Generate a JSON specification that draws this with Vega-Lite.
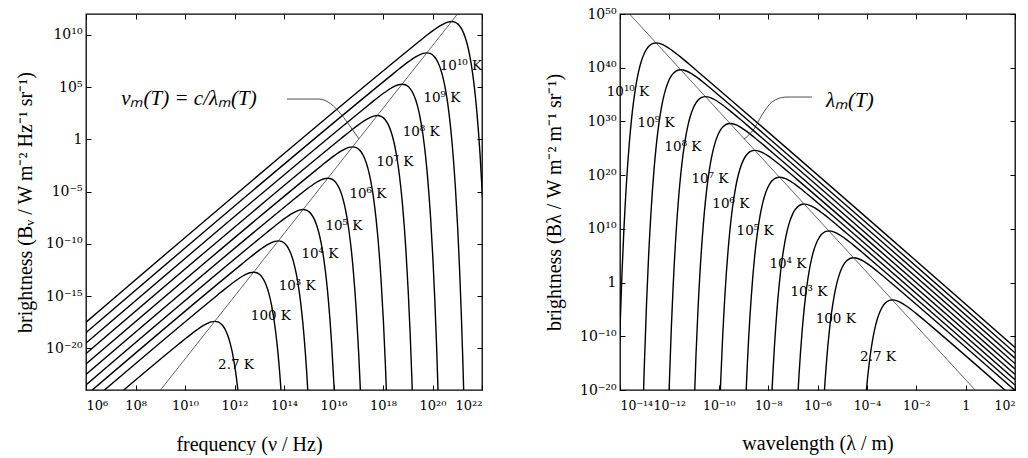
{
"$schema": "https://vega.github.io/schema/vega-lite/v6.json",
"background": "white",
"padding": {"left": 14, "top": 6, "right": 0, "bottom": 0},
"bounds": "flush",
"spacing": 138,
"config": {
  "view": {"stroke": "black", "strokeWidth": 1.3},
  "font": "Liberation Serif",
  "axis": {"grid": false, "domain": false, "tickColor": "black", "tickSize": -5, "tickWidth": 1, "labelFont": "DejaVu Serif", "labelFontSize": 14, "labelColor": "black", "labelPadding": 9, "labelOverlap": false, "labelBound": false, "titleFont": "Liberation Serif", "titleFontSize": 20, "titleFontWeight": "normal", "titleColor": "black"},
  "text": {"font": "DejaVu Serif", "fontSize": 13.5, "color": "black"}
},
"datasets": {
"nu": [
{"T":"2.7","x":6,"y":-27.081},{"T":"2.7","x":9.750,"y":-19.603},{"T":"2.7","x":10.051,"y":-19.023},{"T":"2.7","x":10.227,"y":-18.694},{"T":"2.7","x":10.449,"y":-18.296},{"T":"2.7","x":10.595,"y":-18.052},{"T":"2.7","x":10.750,"y":-17.816},{"T":"2.7","x":10.926,"y":-17.595},{"T":"2.7","x":11.051,"y":-17.483},{"T":"2.7","x":11.201,"y":-17.428},{"T":"2.7","x":11.352,"y":-17.504},{"T":"2.7","x":11.449,"y":-17.653},{"T":"2.7","x":11.528,"y":-17.851},{"T":"2.7","x":11.653,"y":-18.346},{"T":"2.7","x":11.750,"y":-18.924},{"T":"2.7","x":11.829,"y":-19.555},{"T":"2.7","x":11.926,"y":-20.567},{"T":"2.7","x":12.051,"y":-22.364},{"T":"2.7","x":12.148,"y":-24.245},
{"T":"1e2","x":6,"y":-25.513},{"T":"1e2","x":11.319,"y":-14.897},{"T":"1e2","x":11.620,"y":-14.317},{"T":"1e2","x":11.796,"y":-13.988},{"T":"1e2","x":12.018,"y":-13.590},{"T":"1e2","x":12.164,"y":-13.346},{"T":"1e2","x":12.319,"y":-13.110},{"T":"1e2","x":12.495,"y":-12.889},{"T":"1e2","x":12.620,"y":-12.777},{"T":"1e2","x":12.769,"y":-12.722},{"T":"1e2","x":12.921,"y":-12.798},{"T":"1e2","x":13.018,"y":-12.947},{"T":"1e2","x":13.097,"y":-13.145},{"T":"1e2","x":13.222,"y":-13.640},{"T":"1e2","x":13.319,"y":-14.218},{"T":"1e2","x":13.398,"y":-14.849},{"T":"1e2","x":13.495,"y":-15.861},{"T":"1e2","x":13.620,"y":-17.658},{"T":"1e2","x":13.717,"y":-19.539},{"T":"1e2","x":13.796,"y":-21.472},{"T":"1e2","x":13.921,"y":-25.441},
{"T":"1e3","x":6,"y":-24.513},{"T":"1e3","x":12.319,"y":-11.897},{"T":"1e3","x":12.620,"y":-11.317},{"T":"1e3","x":12.796,"y":-10.988},{"T":"1e3","x":13.018,"y":-10.590},{"T":"1e3","x":13.164,"y":-10.346},{"T":"1e3","x":13.319,"y":-10.110},{"T":"1e3","x":13.495,"y":-9.889},{"T":"1e3","x":13.620,"y":-9.777},{"T":"1e3","x":13.769,"y":-9.722},{"T":"1e3","x":13.921,"y":-9.798},{"T":"1e3","x":14.018,"y":-9.947},{"T":"1e3","x":14.097,"y":-10.145},{"T":"1e3","x":14.222,"y":-10.640},{"T":"1e3","x":14.319,"y":-11.218},{"T":"1e3","x":14.398,"y":-11.849},{"T":"1e3","x":14.495,"y":-12.861},{"T":"1e3","x":14.620,"y":-14.658},{"T":"1e3","x":14.717,"y":-16.539},{"T":"1e3","x":14.796,"y":-18.472},{"T":"1e3","x":14.921,"y":-22.441},{"T":"1e3","x":15.018,"y":-26.493},
{"T":"1e4","x":6,"y":-23.513},{"T":"1e4","x":13.319,"y":-8.897},{"T":"1e4","x":13.620,"y":-8.317},{"T":"1e4","x":13.796,"y":-7.988},{"T":"1e4","x":14.018,"y":-7.590},{"T":"1e4","x":14.164,"y":-7.346},{"T":"1e4","x":14.319,"y":-7.110},{"T":"1e4","x":14.495,"y":-6.889},{"T":"1e4","x":14.620,"y":-6.777},{"T":"1e4","x":14.769,"y":-6.722},{"T":"1e4","x":14.921,"y":-6.798},{"T":"1e4","x":15.018,"y":-6.947},{"T":"1e4","x":15.097,"y":-7.145},{"T":"1e4","x":15.222,"y":-7.640},{"T":"1e4","x":15.319,"y":-8.218},{"T":"1e4","x":15.398,"y":-8.849},{"T":"1e4","x":15.495,"y":-9.861},{"T":"1e4","x":15.620,"y":-11.658},{"T":"1e4","x":15.717,"y":-13.539},{"T":"1e4","x":15.796,"y":-15.472},{"T":"1e4","x":15.921,"y":-19.441},{"T":"1e4","x":16.018,"y":-23.493},{"T":"1e4","x":16.097,"y":-27.599},
{"T":"1e5","x":6,"y":-22.513},{"T":"1e5","x":14.319,"y":-5.897},{"T":"1e5","x":14.620,"y":-5.317},{"T":"1e5","x":14.796,"y":-4.988},{"T":"1e5","x":15.018,"y":-4.590},{"T":"1e5","x":15.164,"y":-4.346},{"T":"1e5","x":15.319,"y":-4.110},{"T":"1e5","x":15.495,"y":-3.889},{"T":"1e5","x":15.620,"y":-3.777},{"T":"1e5","x":15.769,"y":-3.722},{"T":"1e5","x":15.921,"y":-3.798},{"T":"1e5","x":16.018,"y":-3.947},{"T":"1e5","x":16.097,"y":-4.145},{"T":"1e5","x":16.222,"y":-4.640},{"T":"1e5","x":16.319,"y":-5.218},{"T":"1e5","x":16.398,"y":-5.849},{"T":"1e5","x":16.495,"y":-6.861},{"T":"1e5","x":16.620,"y":-8.658},{"T":"1e5","x":16.717,"y":-10.539},{"T":"1e5","x":16.796,"y":-12.472},{"T":"1e5","x":16.921,"y":-16.441},{"T":"1e5","x":17.018,"y":-20.493},{"T":"1e5","x":17.097,"y":-24.599},
{"T":"1e6","x":6,"y":-21.513},{"T":"1e6","x":15.319,"y":-2.897},{"T":"1e6","x":15.620,"y":-2.317},{"T":"1e6","x":15.796,"y":-1.988},{"T":"1e6","x":16.018,"y":-1.590},{"T":"1e6","x":16.164,"y":-1.346},{"T":"1e6","x":16.319,"y":-1.110},{"T":"1e6","x":16.495,"y":-0.889},{"T":"1e6","x":16.620,"y":-0.777},{"T":"1e6","x":16.769,"y":-0.722},{"T":"1e6","x":16.921,"y":-0.798},{"T":"1e6","x":17.018,"y":-0.947},{"T":"1e6","x":17.097,"y":-1.145},{"T":"1e6","x":17.222,"y":-1.640},{"T":"1e6","x":17.319,"y":-2.218},{"T":"1e6","x":17.398,"y":-2.849},{"T":"1e6","x":17.495,"y":-3.861},{"T":"1e6","x":17.620,"y":-5.658},{"T":"1e6","x":17.717,"y":-7.539},{"T":"1e6","x":17.796,"y":-9.472},{"T":"1e6","x":17.921,"y":-13.441},{"T":"1e6","x":18.018,"y":-17.493},{"T":"1e6","x":18.097,"y":-21.599},{"T":"1e6","x":18.164,"y":-25.741},
{"T":"1e7","x":6,"y":-20.513},{"T":"1e7","x":16.319,"y":0.103},{"T":"1e7","x":16.620,"y":0.683},{"T":"1e7","x":16.796,"y":1.012},{"T":"1e7","x":17.018,"y":1.410},{"T":"1e7","x":17.164,"y":1.654},{"T":"1e7","x":17.319,"y":1.890},{"T":"1e7","x":17.495,"y":2.111},{"T":"1e7","x":17.620,"y":2.223},{"T":"1e7","x":17.769,"y":2.278},{"T":"1e7","x":17.921,"y":2.202},{"T":"1e7","x":18.018,"y":2.053},{"T":"1e7","x":18.097,"y":1.855},{"T":"1e7","x":18.222,"y":1.360},{"T":"1e7","x":18.319,"y":0.782},{"T":"1e7","x":18.398,"y":0.151},{"T":"1e7","x":18.495,"y":-0.861},{"T":"1e7","x":18.620,"y":-2.658},{"T":"1e7","x":18.717,"y":-4.539},{"T":"1e7","x":18.796,"y":-6.472},{"T":"1e7","x":18.921,"y":-10.441},{"T":"1e7","x":19.018,"y":-14.493},{"T":"1e7","x":19.097,"y":-18.599},{"T":"1e7","x":19.164,"y":-22.741},{"T":"1e7","x":19.222,"y":-26.910},
{"T":"1e8","x":6,"y":-19.513},{"T":"1e8","x":17.319,"y":3.103},{"T":"1e8","x":17.620,"y":3.683},{"T":"1e8","x":17.796,"y":4.012},{"T":"1e8","x":18.018,"y":4.410},{"T":"1e8","x":18.164,"y":4.654},{"T":"1e8","x":18.319,"y":4.890},{"T":"1e8","x":18.495,"y":5.111},{"T":"1e8","x":18.620,"y":5.223},{"T":"1e8","x":18.769,"y":5.278},{"T":"1e8","x":18.921,"y":5.202},{"T":"1e8","x":19.018,"y":5.053},{"T":"1e8","x":19.097,"y":4.855},{"T":"1e8","x":19.222,"y":4.360},{"T":"1e8","x":19.319,"y":3.782},{"T":"1e8","x":19.398,"y":3.151},{"T":"1e8","x":19.495,"y":2.139},{"T":"1e8","x":19.620,"y":0.342},{"T":"1e8","x":19.717,"y":-1.539},{"T":"1e8","x":19.796,"y":-3.472},{"T":"1e8","x":19.921,"y":-7.441},{"T":"1e8","x":20.018,"y":-11.493},{"T":"1e8","x":20.097,"y":-15.599},{"T":"1e8","x":20.164,"y":-19.741},{"T":"1e8","x":20.222,"y":-23.910},{"T":"1e8","x":20.273,"y":-28.095},
{"T":"1e9","x":6,"y":-18.513},{"T":"1e9","x":18.319,"y":6.103},{"T":"1e9","x":18.620,"y":6.683},{"T":"1e9","x":18.796,"y":7.012},{"T":"1e9","x":19.018,"y":7.410},{"T":"1e9","x":19.164,"y":7.654},{"T":"1e9","x":19.319,"y":7.890},{"T":"1e9","x":19.495,"y":8.111},{"T":"1e9","x":19.620,"y":8.223},{"T":"1e9","x":19.769,"y":8.278},{"T":"1e9","x":19.921,"y":8.202},{"T":"1e9","x":20.018,"y":8.053},{"T":"1e9","x":20.097,"y":7.855},{"T":"1e9","x":20.222,"y":7.360},{"T":"1e9","x":20.319,"y":6.782},{"T":"1e9","x":20.398,"y":6.151},{"T":"1e9","x":20.495,"y":5.139},{"T":"1e9","x":20.620,"y":3.342},{"T":"1e9","x":20.717,"y":1.461},{"T":"1e9","x":20.796,"y":-0.472},{"T":"1e9","x":20.921,"y":-4.441},{"T":"1e9","x":21.018,"y":-8.493},{"T":"1e9","x":21.097,"y":-12.599},{"T":"1e9","x":21.164,"y":-16.741},{"T":"1e9","x":21.222,"y":-20.910},{"T":"1e9","x":21.273,"y":-25.095},
{"T":"1e10","x":6,"y":-17.513},{"T":"1e10","x":19.319,"y":9.103},{"T":"1e10","x":19.620,"y":9.683},{"T":"1e10","x":19.796,"y":10.012},{"T":"1e10","x":20.018,"y":10.410},{"T":"1e10","x":20.164,"y":10.654},{"T":"1e10","x":20.319,"y":10.890},{"T":"1e10","x":20.495,"y":11.111},{"T":"1e10","x":20.620,"y":11.223},{"T":"1e10","x":20.769,"y":11.278},{"T":"1e10","x":20.921,"y":11.202},{"T":"1e10","x":21.018,"y":11.053},{"T":"1e10","x":21.097,"y":10.855},{"T":"1e10","x":21.222,"y":10.360},{"T":"1e10","x":21.319,"y":9.782},{"T":"1e10","x":21.398,"y":9.151},{"T":"1e10","x":21.495,"y":8.139},{"T":"1e10","x":21.620,"y":6.342},{"T":"1e10","x":21.717,"y":4.461},{"T":"1e10","x":21.796,"y":2.528},{"T":"1e10","x":21.921,"y":-1.441},{"T":"1e10","x":22.018,"y":-5.493}
],
"lam": [
{"T":"2.7","x":2,"y":-21.651},{"T":"2.7","x":-1.273,"y":-8.579},{"T":"2.7","x":-1.574,"y":-7.397},{"T":"2.7","x":-1.750,"y":-6.716},{"T":"2.7","x":-1.972,"y":-5.874},{"T":"2.7","x":-2.118,"y":-5.338},{"T":"2.7","x":-2.273,"y":-4.792},{"T":"2.7","x":-2.449,"y":-4.219},{"T":"2.7","x":-2.574,"y":-3.857},{"T":"2.7","x":-2.723,"y":-3.503},{"T":"2.7","x":-2.875,"y":-3.276},{"T":"2.7","x":-2.972,"y":-3.231},{"T":"2.7","x":-3.051,"y":-3.271},{"T":"2.7","x":-3.176,"y":-3.516},{"T":"2.7","x":-3.273,"y":-3.900},{"T":"2.7","x":-3.352,"y":-4.373},{"T":"2.7","x":-3.449,"y":-5.191},{"T":"2.7","x":-3.574,"y":-6.738},{"T":"2.7","x":-3.671,"y":-8.425},{"T":"2.7","x":-3.750,"y":-10.200},{"T":"2.7","x":-3.875,"y":-13.919},{"T":"2.7","x":-3.972,"y":-17.777},{"T":"2.7","x":-4.051,"y":-21.725},
{"T":"1e2","x":2,"y":-20.082},{"T":"1e2","x":-2.842,"y":-0.736},{"T":"1e2","x":-3.143,"y":0.446},{"T":"1e2","x":-3.319,"y":1.127},{"T":"1e2","x":-3.541,"y":1.969},{"T":"1e2","x":-3.687,"y":2.505},{"T":"1e2","x":-3.842,"y":3.051},{"T":"1e2","x":-4.018,"y":3.624},{"T":"1e2","x":-4.143,"y":3.986},{"T":"1e2","x":-4.292,"y":4.340},{"T":"1e2","x":-4.444,"y":4.567},{"T":"1e2","x":-4.541,"y":4.612},{"T":"1e2","x":-4.620,"y":4.572},{"T":"1e2","x":-4.745,"y":4.327},{"T":"1e2","x":-4.842,"y":3.943},{"T":"1e2","x":-4.921,"y":3.470},{"T":"1e2","x":-5.018,"y":2.652},{"T":"1e2","x":-5.143,"y":1.105},{"T":"1e2","x":-5.240,"y":-0.582},{"T":"1e2","x":-5.319,"y":-2.357},{"T":"1e2","x":-5.444,"y":-6.076},{"T":"1e2","x":-5.541,"y":-9.934},{"T":"1e2","x":-5.620,"y":-13.882},{"T":"1e2","x":-5.687,"y":-17.890},{"T":"1e2","x":-5.745,"y":-21.943},
{"T":"1e3","x":2,"y":-19.082},{"T":"1e3","x":-3.842,"y":4.264},{"T":"1e3","x":-4.143,"y":5.446},{"T":"1e3","x":-4.319,"y":6.127},{"T":"1e3","x":-4.541,"y":6.969},{"T":"1e3","x":-4.687,"y":7.505},{"T":"1e3","x":-4.842,"y":8.051},{"T":"1e3","x":-5.018,"y":8.624},{"T":"1e3","x":-5.143,"y":8.986},{"T":"1e3","x":-5.292,"y":9.340},{"T":"1e3","x":-5.444,"y":9.567},{"T":"1e3","x":-5.541,"y":9.612},{"T":"1e3","x":-5.620,"y":9.572},{"T":"1e3","x":-5.745,"y":9.327},{"T":"1e3","x":-5.842,"y":8.943},{"T":"1e3","x":-5.921,"y":8.470},{"T":"1e3","x":-6.018,"y":7.652},{"T":"1e3","x":-6.143,"y":6.105},{"T":"1e3","x":-6.240,"y":4.418},{"T":"1e3","x":-6.319,"y":2.643},{"T":"1e3","x":-6.444,"y":-1.076},{"T":"1e3","x":-6.541,"y":-4.934},{"T":"1e3","x":-6.620,"y":-8.882},{"T":"1e3","x":-6.687,"y":-12.890},{"T":"1e3","x":-6.745,"y":-16.943},{"T":"1e3","x":-6.796,"y":-21.026},
{"T":"1e4","x":2,"y":-18.082},{"T":"1e4","x":-4.842,"y":9.264},{"T":"1e4","x":-5.143,"y":10.446},{"T":"1e4","x":-5.319,"y":11.127},{"T":"1e4","x":-5.541,"y":11.969},{"T":"1e4","x":-5.687,"y":12.505},{"T":"1e4","x":-5.842,"y":13.051},{"T":"1e4","x":-6.018,"y":13.624},{"T":"1e4","x":-6.143,"y":13.986},{"T":"1e4","x":-6.292,"y":14.340},{"T":"1e4","x":-6.444,"y":14.567},{"T":"1e4","x":-6.541,"y":14.612},{"T":"1e4","x":-6.620,"y":14.572},{"T":"1e4","x":-6.745,"y":14.327},{"T":"1e4","x":-6.842,"y":13.943},{"T":"1e4","x":-6.921,"y":13.470},{"T":"1e4","x":-7.018,"y":12.652},{"T":"1e4","x":-7.143,"y":11.105},{"T":"1e4","x":-7.240,"y":9.418},{"T":"1e4","x":-7.319,"y":7.643},{"T":"1e4","x":-7.444,"y":3.924},{"T":"1e4","x":-7.541,"y":0.066},{"T":"1e4","x":-7.620,"y":-3.882},{"T":"1e4","x":-7.687,"y":-7.890},{"T":"1e4","x":-7.745,"y":-11.943},{"T":"1e4","x":-7.796,"y":-16.026},{"T":"1e4","x":-7.842,"y":-20.144},
{"T":"1e5","x":2,"y":-17.082},{"T":"1e5","x":-5.842,"y":14.264},{"T":"1e5","x":-6.143,"y":15.446},{"T":"1e5","x":-6.319,"y":16.127},{"T":"1e5","x":-6.541,"y":16.969},{"T":"1e5","x":-6.687,"y":17.505},{"T":"1e5","x":-6.842,"y":18.051},{"T":"1e5","x":-7.018,"y":18.624},{"T":"1e5","x":-7.143,"y":18.986},{"T":"1e5","x":-7.292,"y":19.340},{"T":"1e5","x":-7.444,"y":19.567},{"T":"1e5","x":-7.541,"y":19.612},{"T":"1e5","x":-7.620,"y":19.572},{"T":"1e5","x":-7.745,"y":19.327},{"T":"1e5","x":-7.842,"y":18.943},{"T":"1e5","x":-7.921,"y":18.470},{"T":"1e5","x":-8.018,"y":17.652},{"T":"1e5","x":-8.143,"y":16.105},{"T":"1e5","x":-8.240,"y":14.418},{"T":"1e5","x":-8.319,"y":12.643},{"T":"1e5","x":-8.444,"y":8.924},{"T":"1e5","x":-8.541,"y":5.066},{"T":"1e5","x":-8.620,"y":1.118},{"T":"1e5","x":-8.687,"y":-2.890},{"T":"1e5","x":-8.745,"y":-6.943},{"T":"1e5","x":-8.796,"y":-11.026},{"T":"1e5","x":-8.842,"y":-15.144},{"T":"1e5","x":-8.921,"y":-23.436},
{"T":"1e6","x":2,"y":-16.082},{"T":"1e6","x":-6.842,"y":19.264},{"T":"1e6","x":-7.143,"y":20.446},{"T":"1e6","x":-7.319,"y":21.127},{"T":"1e6","x":-7.541,"y":21.969},{"T":"1e6","x":-7.687,"y":22.505},{"T":"1e6","x":-7.842,"y":23.051},{"T":"1e6","x":-8.018,"y":23.624},{"T":"1e6","x":-8.143,"y":23.986},{"T":"1e6","x":-8.292,"y":24.340},{"T":"1e6","x":-8.444,"y":24.567},{"T":"1e6","x":-8.541,"y":24.612},{"T":"1e6","x":-8.620,"y":24.572},{"T":"1e6","x":-8.745,"y":24.327},{"T":"1e6","x":-8.842,"y":23.943},{"T":"1e6","x":-8.921,"y":23.470},{"T":"1e6","x":-9.018,"y":22.652},{"T":"1e6","x":-9.143,"y":21.105},{"T":"1e6","x":-9.240,"y":19.418},{"T":"1e6","x":-9.319,"y":17.643},{"T":"1e6","x":-9.444,"y":13.924},{"T":"1e6","x":-9.541,"y":10.066},{"T":"1e6","x":-9.620,"y":6.118},{"T":"1e6","x":-9.687,"y":2.110},{"T":"1e6","x":-9.745,"y":-1.943},{"T":"1e6","x":-9.796,"y":-6.026},{"T":"1e6","x":-9.842,"y":-10.144},{"T":"1e6","x":-9.921,"y":-18.436},{"T":"1e6","x":-10.018,"y":-30.982},
{"T":"1e7","x":2,"y":-15.082},{"T":"1e7","x":-7.842,"y":24.264},{"T":"1e7","x":-8.143,"y":25.446},{"T":"1e7","x":-8.319,"y":26.127},{"T":"1e7","x":-8.541,"y":26.969},{"T":"1e7","x":-8.687,"y":27.505},{"T":"1e7","x":-8.842,"y":28.051},{"T":"1e7","x":-9.018,"y":28.624},{"T":"1e7","x":-9.143,"y":28.986},{"T":"1e7","x":-9.292,"y":29.340},{"T":"1e7","x":-9.444,"y":29.567},{"T":"1e7","x":-9.541,"y":29.612},{"T":"1e7","x":-9.620,"y":29.572},{"T":"1e7","x":-9.745,"y":29.327},{"T":"1e7","x":-9.842,"y":28.943},{"T":"1e7","x":-9.921,"y":28.470},{"T":"1e7","x":-10.018,"y":27.652},{"T":"1e7","x":-10.143,"y":26.105},{"T":"1e7","x":-10.240,"y":24.418},{"T":"1e7","x":-10.319,"y":22.643},{"T":"1e7","x":-10.444,"y":18.924},{"T":"1e7","x":-10.541,"y":15.066},{"T":"1e7","x":-10.620,"y":11.118},{"T":"1e7","x":-10.687,"y":7.110},{"T":"1e7","x":-10.745,"y":3.057},{"T":"1e7","x":-10.796,"y":-1.026},{"T":"1e7","x":-10.842,"y":-5.144},{"T":"1e7","x":-10.921,"y":-13.436},{"T":"1e7","x":-11.018,"y":-25.982},
{"T":"1e8","x":2,"y":-14.082},{"T":"1e8","x":-8.842,"y":29.264},{"T":"1e8","x":-9.143,"y":30.446},{"T":"1e8","x":-9.319,"y":31.127},{"T":"1e8","x":-9.541,"y":31.969},{"T":"1e8","x":-9.687,"y":32.505},{"T":"1e8","x":-9.842,"y":33.051},{"T":"1e8","x":-10.018,"y":33.624},{"T":"1e8","x":-10.143,"y":33.986},{"T":"1e8","x":-10.292,"y":34.340},{"T":"1e8","x":-10.444,"y":34.567},{"T":"1e8","x":-10.541,"y":34.612},{"T":"1e8","x":-10.620,"y":34.572},{"T":"1e8","x":-10.745,"y":34.327},{"T":"1e8","x":-10.842,"y":33.943},{"T":"1e8","x":-10.921,"y":33.470},{"T":"1e8","x":-11.018,"y":32.652},{"T":"1e8","x":-11.143,"y":31.105},{"T":"1e8","x":-11.240,"y":29.418},{"T":"1e8","x":-11.319,"y":27.643},{"T":"1e8","x":-11.444,"y":23.924},{"T":"1e8","x":-11.541,"y":20.066},{"T":"1e8","x":-11.620,"y":16.118},{"T":"1e8","x":-11.687,"y":12.110},{"T":"1e8","x":-11.745,"y":8.057},{"T":"1e8","x":-11.796,"y":3.974},{"T":"1e8","x":-11.842,"y":-0.144},{"T":"1e8","x":-11.921,"y":-8.436},{"T":"1e8","x":-12.018,"y":-20.982},
{"T":"1e9","x":2,"y":-13.082},{"T":"1e9","x":-9.842,"y":34.264},{"T":"1e9","x":-10.143,"y":35.446},{"T":"1e9","x":-10.319,"y":36.127},{"T":"1e9","x":-10.541,"y":36.969},{"T":"1e9","x":-10.687,"y":37.505},{"T":"1e9","x":-10.842,"y":38.051},{"T":"1e9","x":-11.018,"y":38.624},{"T":"1e9","x":-11.143,"y":38.986},{"T":"1e9","x":-11.292,"y":39.340},{"T":"1e9","x":-11.444,"y":39.567},{"T":"1e9","x":-11.541,"y":39.612},{"T":"1e9","x":-11.620,"y":39.572},{"T":"1e9","x":-11.745,"y":39.327},{"T":"1e9","x":-11.842,"y":38.943},{"T":"1e9","x":-11.921,"y":38.470},{"T":"1e9","x":-12.018,"y":37.652},{"T":"1e9","x":-12.143,"y":36.105},{"T":"1e9","x":-12.240,"y":34.418},{"T":"1e9","x":-12.319,"y":32.643},{"T":"1e9","x":-12.444,"y":28.924},{"T":"1e9","x":-12.541,"y":25.066},{"T":"1e9","x":-12.620,"y":21.118},{"T":"1e9","x":-12.687,"y":17.110},{"T":"1e9","x":-12.745,"y":13.057},{"T":"1e9","x":-12.796,"y":8.974},{"T":"1e9","x":-12.842,"y":4.856},{"T":"1e9","x":-12.921,"y":-3.436},{"T":"1e9","x":-13.018,"y":-15.982},{"T":"1e9","x":-13.085,"y":-26.500},
{"T":"1e10","x":2,"y":-12.082},{"T":"1e10","x":-10.842,"y":39.264},{"T":"1e10","x":-11.143,"y":40.446},{"T":"1e10","x":-11.319,"y":41.127},{"T":"1e10","x":-11.541,"y":41.969},{"T":"1e10","x":-11.687,"y":42.505},{"T":"1e10","x":-11.842,"y":43.051},{"T":"1e10","x":-12.018,"y":43.624},{"T":"1e10","x":-12.143,"y":43.986},{"T":"1e10","x":-12.292,"y":44.340},{"T":"1e10","x":-12.444,"y":44.567},{"T":"1e10","x":-12.541,"y":44.612},{"T":"1e10","x":-12.620,"y":44.572},{"T":"1e10","x":-12.745,"y":44.327},{"T":"1e10","x":-12.842,"y":43.943},{"T":"1e10","x":-12.921,"y":43.470},{"T":"1e10","x":-13.018,"y":42.652},{"T":"1e10","x":-13.143,"y":41.105},{"T":"1e10","x":-13.240,"y":39.418},{"T":"1e10","x":-13.319,"y":37.643},{"T":"1e10","x":-13.444,"y":33.924},{"T":"1e10","x":-13.541,"y":30.066},{"T":"1e10","x":-13.620,"y":26.118},{"T":"1e10","x":-13.687,"y":22.110},{"T":"1e10","x":-13.745,"y":18.057},{"T":"1e10","x":-13.796,"y":13.974},{"T":"1e10","x":-13.842,"y":9.856},{"T":"1e10","x":-13.921,"y":1.564},{"T":"1e10","x":-14.018,"y":-10.982}
]
},
"hconcat": [
{
  "width": 396, "height": 376,
  "resolve": {"axis": {"x": "independent", "y": "independent"}},
  "layer": [
    {
      "data": {"name": "nu"},
      "mark": {"type": "line", "clip": true, "interpolate": "monotone", "color": "black", "strokeWidth": 1.4},
      "encoding": {
        "x": {"field": "x", "type": "quantitative", "scale": {"domain": [6, 22], "nice": false, "zero": false},
              "axis": {"orient": "bottom", "values": [6,8,10,12,14,16,18,20,22], "labelExpr": "['10⁶','10⁸','10¹⁰','10¹²','10¹⁴','10¹⁶','10¹⁸','10²⁰','10²²'][(datum.value-6)/2]", "labelFontSize": 13, "labelPadding": 14, "title": "frequency (ν / Hz)", "titleX": 163, "titlePadding": 22}},
        "y": {"field": "y", "type": "quantitative", "scale": {"domain": [-24, 12], "nice": false, "zero": false},
              "axis": {"orient": "left", "values": [-20,-15,-10,-5,0,5,10], "labelExpr": "['10⁻²⁰','10⁻¹⁵','10⁻¹⁰','10⁻⁵','1','10⁵','10¹⁰'][(datum.value+20)/5]", "title": "brightness (Bᵥ / W m⁻² Hz⁻¹ sr⁻¹)", "titlePadding": 10}},
        "detail": {"field": "T", "type": "nominal"}
      }
    },
    {
      "data": {"values": [{"x": 6, "y": -33.03}, {"x": 22, "y": 14.97}]},
      "mark": {"type": "line", "clip": true, "color": "#222222", "strokeWidth": 0.7},
      "encoding": {
        "x": {"field": "x", "type": "quantitative", "scale": {"domain": [6, 22], "nice": false, "zero": false},
              "axis": {"orient": "top", "values": [6,8,10,12,14,16,18,20,22], "labels": false, "title": null}},
        "y": {"field": "y", "type": "quantitative", "scale": {"domain": [-24, 12], "nice": false, "zero": false},
              "axis": {"orient": "right", "values": [-20,-15,-10,-5,0,5,10], "labels": false, "title": null}}
      }
    },
    {
      "data": {"values": [{"x": 14.12, "y": 3.86}, {"x": 15.41, "y": 3.86}, {"x": 15.90, "y": 3.38}, {"x": 16.30, "y": 2.42}, {"x": 16.75, "y": 0.98}, {"x": 17.03, "y": 0.05}]},
      "mark": {"type": "line", "interpolate": "monotone", "color": "#222222", "strokeWidth": 0.8},
      "encoding": {
        "x": {"field": "x", "type": "quantitative", "scale": {"domain": [6, 22], "nice": false, "zero": false}, "axis": null},
        "y": {"field": "y", "type": "quantitative", "scale": {"domain": [-24, 12], "nice": false, "zero": false}, "axis": null}
      }
    },
    {
      "data": {"values": [
        {"x": 12.06, "y": -21.62, "t": "2.7 K"}, {"x": 13.47, "y": -16.93, "t": "100 K"}, {"x": 14.53, "y": -14.05, "t": "10³ K"},
        {"x": 15.45, "y": -10.99, "t": "10⁴ K"}, {"x": 16.42, "y": -8.31, "t": "10⁵ K"}, {"x": 17.39, "y": -5.24, "t": "10⁶ K"},
        {"x": 18.48, "y": -2.18, "t": "10⁷ K"}, {"x": 19.54, "y": 0.70, "t": "10⁸ K"}, {"x": 20.38, "y": 3.95, "t": "10⁹ K"},
        {"x": 21.15, "y": 7.02, "t": "10¹⁰ K"}]},
      "mark": {"type": "text", "align": "center", "baseline": "middle"},
      "encoding": {
        "x": {"field": "x", "type": "quantitative", "scale": {"domain": [6, 22], "nice": false, "zero": false}, "axis": null},
        "y": {"field": "y", "type": "quantitative", "scale": {"domain": [-24, 12], "nice": false, "zero": false}, "axis": null},
        "text": {"field": "t"}
      }
    },
    {
      "data": {"values": [{"x": 10.16, "y": 3.86, "t": "νₘ(T) = c/λₘ(T)"}]},
      "mark": {"type": "text", "font": "Liberation Serif", "fontSize": 21, "fontStyle": "italic", "align": "center", "baseline": "middle"},
      "encoding": {
        "x": {"field": "x", "type": "quantitative", "scale": {"domain": [6, 22], "nice": false, "zero": false}, "axis": null},
        "y": {"field": "y", "type": "quantitative", "scale": {"domain": [-24, 12], "nice": false, "zero": false}, "axis": null},
        "text": {"field": "t"}
      }
    }
  ]
},
{
  "width": 395, "height": 376,
  "resolve": {"axis": {"x": "independent", "y": "independent"}},
  "layer": [
    {
      "data": {"name": "lam"},
      "mark": {"type": "line", "clip": true, "interpolate": "monotone", "color": "black", "strokeWidth": 1.4},
      "encoding": {
        "x": {"field": "x", "type": "quantitative", "scale": {"domain": [-14, 2], "nice": false, "zero": false},
              "axis": {"orient": "bottom", "values": [-14,-12,-10,-8,-6,-4,-2,0,2], "labelExpr": "['10⁻¹⁴','10⁻¹²','10⁻¹⁰','10⁻⁸','10⁻⁶','10⁻⁴','10⁻²','1','10²'][(datum.value+14)/2]", "labelFontSize": 12.5, "labelPadding": 14, "title": "wavelength (λ / m)", "titlePadding": 22}},
        "y": {"field": "y", "type": "quantitative", "scale": {"domain": [-20, 50], "nice": false, "zero": false},
              "axis": {"orient": "left", "values": [-20,-10,0,10,20,30,40,50], "labelExpr": "['10⁻²⁰','10⁻¹⁰','1','10¹⁰','10²⁰','10³⁰','10⁴⁰','10⁵⁰'][(datum.value+20)/10]", "title": "brightness (Bλ / W m⁻² m⁻¹ sr⁻¹)", "titlePadding": 15}},
        "detail": {"field": "T", "type": "nominal"}
      }
    },
    {
      "data": {"values": [{"x": -14, "y": 51.922}, {"x": 2, "y": -28.078}]},
      "mark": {"type": "line", "clip": true, "color": "#222222", "strokeWidth": 0.7},
      "encoding": {
        "x": {"field": "x", "type": "quantitative", "scale": {"domain": [-14, 2], "nice": false, "zero": false},
              "axis": {"orient": "top", "values": [-14,-12,-10,-8,-6,-4,-2,0,2], "labels": false, "title": null}},
        "y": {"field": "y", "type": "quantitative", "scale": {"domain": [-20, 50], "nice": false, "zero": false},
              "axis": {"orient": "right", "values": [-20,-10,0,10,20,30,40,50], "labels": false, "title": null}}
      }
    },
    {
      "data": {"values": [{"x": -6.227, "y": 34.54}, {"x": -7.279, "y": 34.54}, {"x": -7.846, "y": 33.61}, {"x": -8.251, "y": 31.19}, {"x": -8.575, "y": 28.58}, {"x": -8.98, "y": 26.7}]},
      "mark": {"type": "line", "interpolate": "monotone", "color": "#222222", "strokeWidth": 0.8},
      "encoding": {
        "x": {"field": "x", "type": "quantitative", "scale": {"domain": [-14, 2], "nice": false, "zero": false}, "axis": null},
        "y": {"field": "y", "type": "quantitative", "scale": {"domain": [-20, 50], "nice": false, "zero": false}, "axis": null}
      }
    },
    {
      "data": {"values": [
        {"x": -13.68, "y": 35.47, "t": "10¹⁰ K"}, {"x": -12.54, "y": 29.70, "t": "10⁹ K"}, {"x": -11.45, "y": 25.23, "t": "10⁸ K"},
        {"x": -10.36, "y": 19.27, "t": "10⁷ K"}, {"x": -9.51, "y": 14.62, "t": "10⁶ K"}, {"x": -8.53, "y": 9.59, "t": "10⁵ K"},
        {"x": -7.20, "y": 3.45, "t": "10⁴ K"}, {"x": -6.35, "y": -1.77, "t": "10³ K"}, {"x": -5.26, "y": -6.80, "t": "100 K"},
        {"x": -3.55, "y": -13.87, "t": "2.7 K"}]},
      "mark": {"type": "text", "align": "center", "baseline": "middle"},
      "encoding": {
        "x": {"field": "x", "type": "quantitative", "scale": {"domain": [-14, 2], "nice": false, "zero": false}, "axis": null},
        "y": {"field": "y", "type": "quantitative", "scale": {"domain": [-20, 50], "nice": false, "zero": false}, "axis": null},
        "text": {"field": "t"}
      }
    },
    {
      "data": {"values": [{"x": -4.69, "y": 33.80, "t": "λₘ(T)"}]},
      "mark": {"type": "text", "font": "Liberation Serif", "fontSize": 21, "fontStyle": "italic", "align": "center", "baseline": "middle"},
      "encoding": {
        "x": {"field": "x", "type": "quantitative", "scale": {"domain": [-14, 2], "nice": false, "zero": false}, "axis": null},
        "y": {"field": "y", "type": "quantitative", "scale": {"domain": [-20, 50], "nice": false, "zero": false}, "axis": null},
        "text": {"field": "t"}
      }
    }
  ]
}
]
}
